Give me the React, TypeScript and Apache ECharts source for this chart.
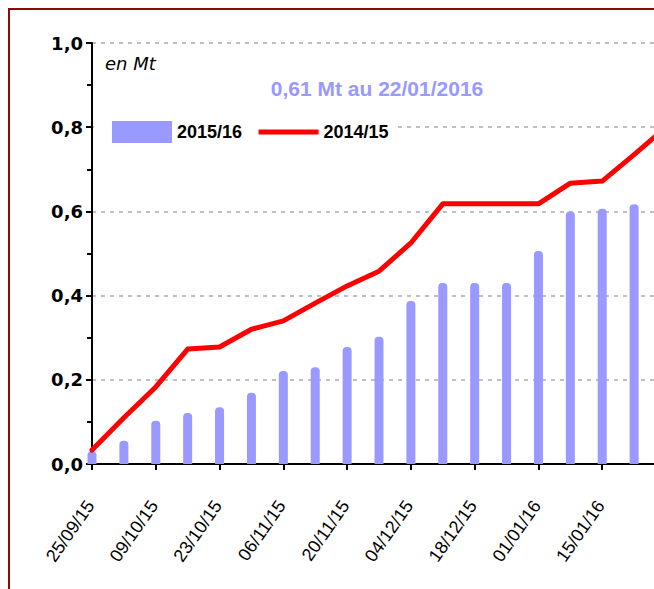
import React, { useEffect, useRef } from "react";
import * as echarts from "echarts";

const categories = [
  "25/09/15", "02/10/15", "09/10/15", "16/10/15", "23/10/15", "30/10/15",
  "06/11/15", "13/11/15", "20/11/15", "27/11/15", "04/12/15", "11/12/15",
  "18/12/15", "25/12/15", "01/01/16", "08/01/16", "15/01/16", "22/01/16",
  "29/01/16",
];
const values201516 = [
  0.03, 0.055, 0.103, 0.121, 0.135, 0.169, 0.221, 0.23, 0.278, 0.302,
  0.387, 0.43, 0.43, 0.43, 0.506, 0.6, 0.606, 0.617, null,
];
const values201415 = [
  0.033, 0.11, 0.183, 0.273, 0.278, 0.32, 0.34, 0.382, 0.423, 0.458,
  0.525, 0.618, 0.618, 0.618, 0.618, 0.667, 0.672, 0.735, 0.8,
];
const yTicks = [0, 0.2, 0.4, 0.6, 0.8, 1.0];
const titleText = "0,61 Mt au 22/01/2016";
const unitText = "en Mt";

export default function App() {
  const ref = useRef<HTMLDivElement>(null);
  useEffect(() => {
    if (!ref.current) return;
    const chart = echarts.init(ref.current, null, { renderer: "svg" });
    chart.setOption({
      animation: false,
      backgroundColor: "#ffffff",
      grid: { left: 82, top: 33, right: 64, bottom: 146, containLabel: false },
      xAxis: {
        type: "category",
        data: categories,
        boundaryGap: false,
        axisLine: { lineStyle: { color: "#000", width: 2 } },
        axisTick: {
          show: true,
          length: 6,
          interval: (i: number) => i % 2 === 0,
          lineStyle: { color: "#000", width: 2 },
        },
        axisLabel: {
          interval: (i: number) => i % 2 === 0 && i < categories.length - 1,
          rotate: 55,
          margin: 36,
          color: "#000",
          fontFamily: "Arial, 'Liberation Sans', sans-serif",
          fontSize: 18,
          padding: [0, 3, 0, 0],
        },
        splitLine: { show: false },
      },
      yAxis: {
        type: "value",
        min: yTicks[0],
        max: yTicks[yTicks.length - 1],
        interval: 0.2,
        axisLine: { show: true, lineStyle: { color: "#000", width: 2 } },
        axisTick: { show: true, length: 6, lineStyle: { color: "#000", width: 2 } },
        minorTick: { show: true, splitNumber: 2, length: 5, lineStyle: { color: "#000", width: 2 } },
        axisLabel: {
          margin: 9,
          color: "#000",
          fontFamily: "'DejaVu Sans', sans-serif",
          fontWeight: "bold",
          fontSize: 18,
          formatter: (v: number) => v.toFixed(1).replace(".", ","),
        },
        splitLine: {
          show: true,
          lineStyle: { color: "#c0c0c0", width: 2, type: [4, 5] },
        },
      },
      legend: {
        left: 84,
        top: 105,
        orient: "horizontal",
        backgroundColor: "#ffffff",
        padding: [6, 7, 6, 18],
        itemWidth: 60,
        itemHeight: 22,
        itemGap: 14,
        itemTextGap: 5,
        textStyle: {
          color: "#000",
          fontFamily: "Arial, 'Liberation Sans', sans-serif",
          fontWeight: "bold",
          fontSize: 18,
        },
        data: [
          { name: "2015/16", icon: "rect" },
          {
            name: "2014/15",
            itemStyle: { opacity: 0 },
            lineStyle: { width: 5, cap: "butt", color: "#ff0000" },
          },
        ],
      },
      graphic: [
        {
          type: "text",
          left: 95,
          top: 44,
          style: {
            text: unitText,
            fill: "#000",
            font: "italic 18px 'DejaVu Sans', sans-serif",
          },
        },
        {
          type: "text",
          x: 367,
          y: 78,
          style: {
            text: titleText,
            fill: "#9999ff",
            font: "bold 21px Arial, 'Liberation Sans', sans-serif",
            align: "center",
            verticalAlign: "middle",
          },
        },
      ],
      series: [
        {
          name: "2015/16",
          type: "bar",
          data: values201516,
          barWidth: 9,
          itemStyle: { color: "#9999ff", borderRadius: [4, 4, 0, 0] },
        },
        {
          name: "2014/15",
          type: "line",
          data: values201415,
          symbol: "none",
          lineStyle: { color: "#ff0000", width: 5, cap: "round", join: "round" },
          itemStyle: { color: "#ff0000" },
          z: 3,
        },
      ],
    });
    return () => chart.dispose();
  }, []);

  return (
    <div
      style={{
        position: "fixed",
        left: 8,
        top: 8,
        width: 646,
        height: 581,
        overflow: "hidden",
      }}
    >
      <div
        style={{
          border: "2px solid #8b0a0a",
          width: 720,
          height: 600,
          background: "#fff",
        }}
      >
        <div ref={ref} style={{ width: 720, height: 600 }} />
      </div>
    </div>
  );
}
